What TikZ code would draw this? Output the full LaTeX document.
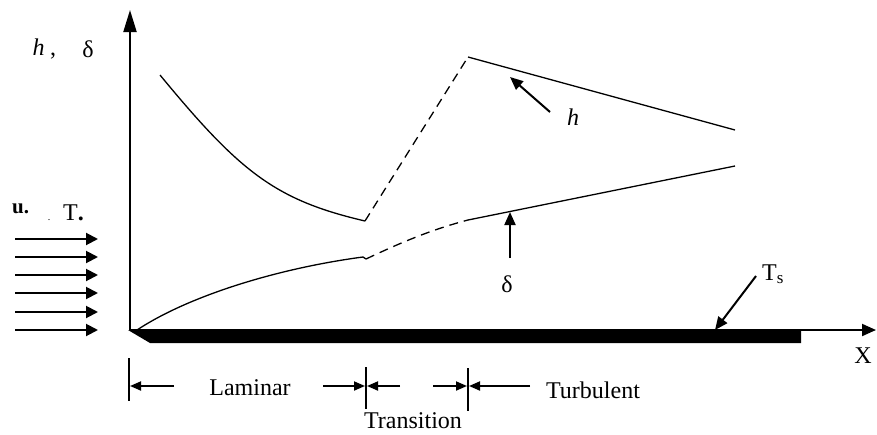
\documentclass[tikz,border=0pt]{standalone}
\usepackage{fontspec}
\setmainfont{Liberation Serif}
\usetikzlibrary{arrows.meta}
\begin{document}
\begin{tikzpicture}[x=1pt,y=-1pt,
  lbl/.style={font=\fontsize{24}{28}\selectfont, inner sep=0pt, anchor=base},
  curve/.style={line width=1.3pt},
  dashcurve/.style={line width=1.3pt, dash pattern=on 9pt off 6pt},
  ptr/.style={line width=2pt,-{Triangle[length=13pt,width=11pt]}},
  flow/.style={line width=2pt,-{Triangle[length=12pt,width=12pt]}},
  dimarrow/.style={line width=1.8pt,-{Triangle[length=11pt,width=9pt]}},
  tickline/.style={line width=1.2pt}]
\useasboundingbox (0,0) rectangle (877,434);
% axes
\coordinate (O) at (130,330);
\coordinate (Ytop) at (130,10);
\coordinate (Xend) at (876,330);
\draw[line width=2pt,-{Triangle[length=22pt,width=13pt]}] (O) -- (Ytop);
\draw[line width=2pt,-{Triangle[length=14pt,width=12pt]}] (O) -- (Xend);
% plate
\fill (128,330) -- (801,330) -- (801,343) -- (150,343) -- cycle;
% free stream arrows
\foreach \yy [count=\i] in {239,257,275,293,312,330}{
  \coordinate (fs\i) at (15,\yy);
  \coordinate (fe\i) at (98,\yy);
  \draw[flow] (fs\i) -- (fe\i);
}
% h curve
\coordinate (h0) at (160,75);
\coordinate (hmin) at (365,221);
\coordinate (hmax) at (468,57);
\coordinate (hend) at (735,130);
\draw[curve] (h0) .. controls (240,172) and (275,200) .. (hmin);
\draw[dashcurve] (hmin) -- (hmax);
\draw[curve] (hmax) -- (hend);
% delta curve
\coordinate (d0) at (137,330);
\coordinate (d1) at (363,257);
\coordinate (d2) at (366,259);
\coordinate (d3) at (468,220);
\coordinate (dend) at (735,166);
\draw[curve] (d0) .. controls (190,295) and (280,268) .. (d1) -- (d2);
\draw[dashcurve] (d2) .. controls (400,243) and (430,230) .. (d3);
\draw[curve] (d3) -- (dend);
% pointers
\coordinate (hp0) at (550,112); \coordinate (hp1) at (510,77);
\draw[ptr] (hp0) -- (hp1);
\node[lbl, font=\fontsize{24}{28}\selectfont\itshape] (hlab) at (573,125) {h};
\coordinate (dp0) at (510,258); \coordinate (dp1) at (510,212);
\draw[ptr] (dp0) -- (dp1);
\node[lbl] (dlab) at (507,292) {δ};
\coordinate (tp0) at (756,276); \coordinate (tp1) at (715,330);
\draw[ptr] (tp0) -- (tp1);
\node[lbl, anchor=base west] (tslab) at (762,280) {T{\fontsize{17}{17}\selectfont\raisebox{-3pt}{s}}};
% axis labels
\node[lbl, font=\fontsize{24}{28}\selectfont\itshape] (yl1) at (38.5,55) {h};
\node[lbl] (yl2) at (53,55) {,};
\node[lbl] (yl3) at (88,57) {δ};
\node[lbl] (xl) at (863,363) {X};
\node[lbl, anchor=base west, font=\fontsize{21}{24}\selectfont\bfseries] (ul) at (12,213) {u.};
\node[lbl, anchor=base, font=\fontsize{10}{12}\selectfont] (dotl) at (49,220) {.};
\node[lbl, anchor=base west] (tl) at (63,220) {T\textbf{.}};
% regions
\coordinate (t1a) at (129,358); \coordinate (t1b) at (129,401);
\coordinate (t2a) at (366,367); \coordinate (t2b) at (366,409);
\coordinate (t3a) at (468,368); \coordinate (t3b) at (468,411);
\draw[tickline] (t1a) -- (t1b);
\draw[tickline] (t2a) -- (t2b);
\draw[tickline] (t3a) -- (t3b);
\coordinate (a1) at (174,386); \coordinate (a1t) at (130,386);
\coordinate (a2) at (323,386); \coordinate (a2t) at (365,386);
\coordinate (a3) at (400,386); \coordinate (a3t) at (367,386);
\coordinate (a4) at (433,386); \coordinate (a4t) at (467,386);
\coordinate (a5) at (530,386); \coordinate (a5t) at (469,386);
\draw[dimarrow] (a1) -- (a1t);
\draw[dimarrow] (a2) -- (a2t);
\draw[dimarrow] (a3) -- (a3t);
\draw[dimarrow] (a4) -- (a4t);
\draw[dimarrow] (a5) -- (a5t);
\node[lbl] (lam) at (250,395) {Laminar};
\node[lbl] (tra) at (413,428) {Transition};
\node[lbl] (tur) at (593,398) {Turbulent};
\end{tikzpicture}
\end{document}
